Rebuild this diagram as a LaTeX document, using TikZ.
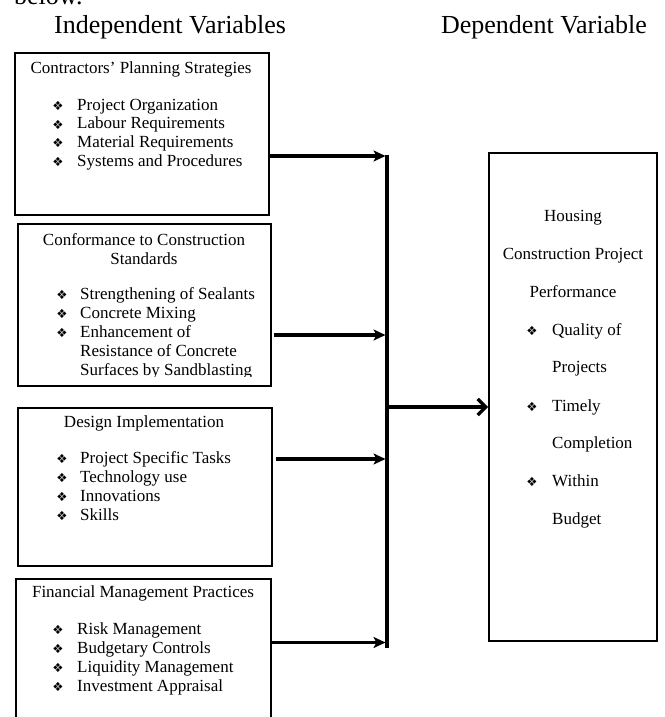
\documentclass[tikz,border=0pt]{standalone}
\usepackage{fontspec}
\setmainfont{Liberation Serif}
\newfontfamily\symfont{DejaVu Sans}
\usetikzlibrary{arrows.meta}
\begin{document}
\begin{tikzpicture}[x=1pt,y=-1pt,
  boxst/.style={draw, line width=1.8pt, inner sep=0pt, anchor=north west},
  head/.style={font=\fontsize{26}{28}\selectfont, inner sep=0pt, anchor=base},
  ttl/.style={font=\fontsize{17}{19}\selectfont, inner sep=0pt, text height=11.5pt, text depth=3.5pt},
  itm/.style={ttl, anchor=west},
  bul/.style={font=\symfont\fontsize{12.5}{13}\selectfont, inner sep=0pt},
  vline/.style={line width=3.3pt},
  arr/.style={line width=3.2pt, -{Stealth[length=12pt,width=11pt,inset=3pt]}},
  mainarr/.style={line width=3.2pt, -{Straight Barb[length=8pt,width=16pt]}}]
\useasboundingbox (0,0) rectangle (664,717);

% headings
\node[head, anchor=base west] (below) at (14,5) {below.};
\node[head] (hind) at (170,34) {Independent Variables};
\node[head] (hdep) at (544,34) {Dependent Variable};

% box 1
\node[boxst, minimum width=254pt, minimum height=162pt] (b1) at (14,52) {};
\node[ttl] (b1t) at (141,70) {Contractors' Planning Strategies};
\foreach \t [count=\i] in {Project Organization,Labour Requirements,Material Requirements,Systems and Procedures}{
  \node[bul] (b1b\i) at (58,{106+18.7*(\i-1)}) {❖};
  \node[itm] (b1i\i) at (77,{106+18.7*(\i-1)}) {\t};
}

% box 2
\node[boxst, minimum width=253pt, minimum height=162pt] (b2) at (17,223) {};
\node[ttl] (b2t1) at (144,241) {Conformance to Construction};
\node[ttl] (b2t2) at (144,260) {Standards};
\begin{scope}
\clip (17,223) rectangle (270,376);
\foreach \t [count=\i] in {Strengthening of Sealants,Concrete Mixing,Enhancement of}{
  \node[bul] (b2b\i) at (62,{295+19*(\i-1)}) {❖};
  \node[itm] (b2i\i) at (80,{295+19*(\i-1)}) {\t};
}
\node[itm] (b2i4) at (80,352) {Resistance of Concrete};
\node[itm] (b2i5) at (80,371) {Surfaces by Sandblasting};
\end{scope}

% box 3
\node[boxst, minimum width=254pt, minimum height=158pt] (b3) at (17,407) {};
\node[ttl] (b3t) at (144,423) {Design Implementation};
\foreach \t [count=\i] in {Project Specific Tasks,Technology use,Innovations,Skills}{
  \node[bul] (b3b\i) at (62,{459+19*(\i-1)}) {❖};
  \node[itm] (b3i\i) at (80,{459+19*(\i-1)}) {\t};
}

% box 4
\node[boxst, minimum width=255pt, minimum height=160pt] (b4) at (15,578) {};
\node[ttl] (b4t) at (143,593) {Financial Management Practices};
\foreach \t [count=\i] in {Risk Management,Budgetary Controls,Liquidity Management,Investment Appraisal}{
  \node[bul] (b4b\i) at (58,{630+19*(\i-1)}) {❖};
  \node[itm] (b4i\i) at (77,{630+19*(\i-1)}) {\t};
}

% dependent box
\node[boxst, minimum width=168pt, minimum height=488pt] (dv) at (488,152) {};
\node[ttl] (dvt1) at (573,217) {Housing};
\node[ttl] (dvt2) at (573,255) {Construction Project};
\node[ttl] (dvt3) at (573,293) {Performance};
\node[bul] (dvb1) at (532,331) {❖};
\node[itm] (dvi1) at (552,331) {Quality of};
\node[itm] (dvi2) at (552,368) {Projects};
\node[bul] (dvb2) at (532,407) {❖};
\node[itm] (dvi3) at (552,407) {Timely};
\node[itm] (dvi4) at (552,444) {Completion};
\node[bul] (dvb3) at (532,482) {❖};
\node[itm] (dvi5) at (552,482) {Within};
\node[itm] (dvi6) at (552,520) {Budget};

% connectors
\coordinate (vtop) at (387,154.5);
\coordinate (vbot) at (387,648);
\coordinate (a1) at (385.5,156);
\coordinate (a2) at (385.5,335);
\coordinate (a3) at (385.5,459);
\coordinate (a4) at (385.5,642.5);
\coordinate (vmid) at (387,407);
\draw[vline] (vtop) -- (vbot);
\draw[arr] (b1.east |- a1) -- (a1);
\draw[arr] ([xshift=2pt]b2.east |- a2) -- (a2);
\draw[arr] ([xshift=3pt]b3.east |- a3) -- (a3);
\draw[arr] (b4.east |- a4) -- (a4);
\draw[mainarr] (vmid) -- (dv.west |- vmid);
\end{tikzpicture}
\end{document}
